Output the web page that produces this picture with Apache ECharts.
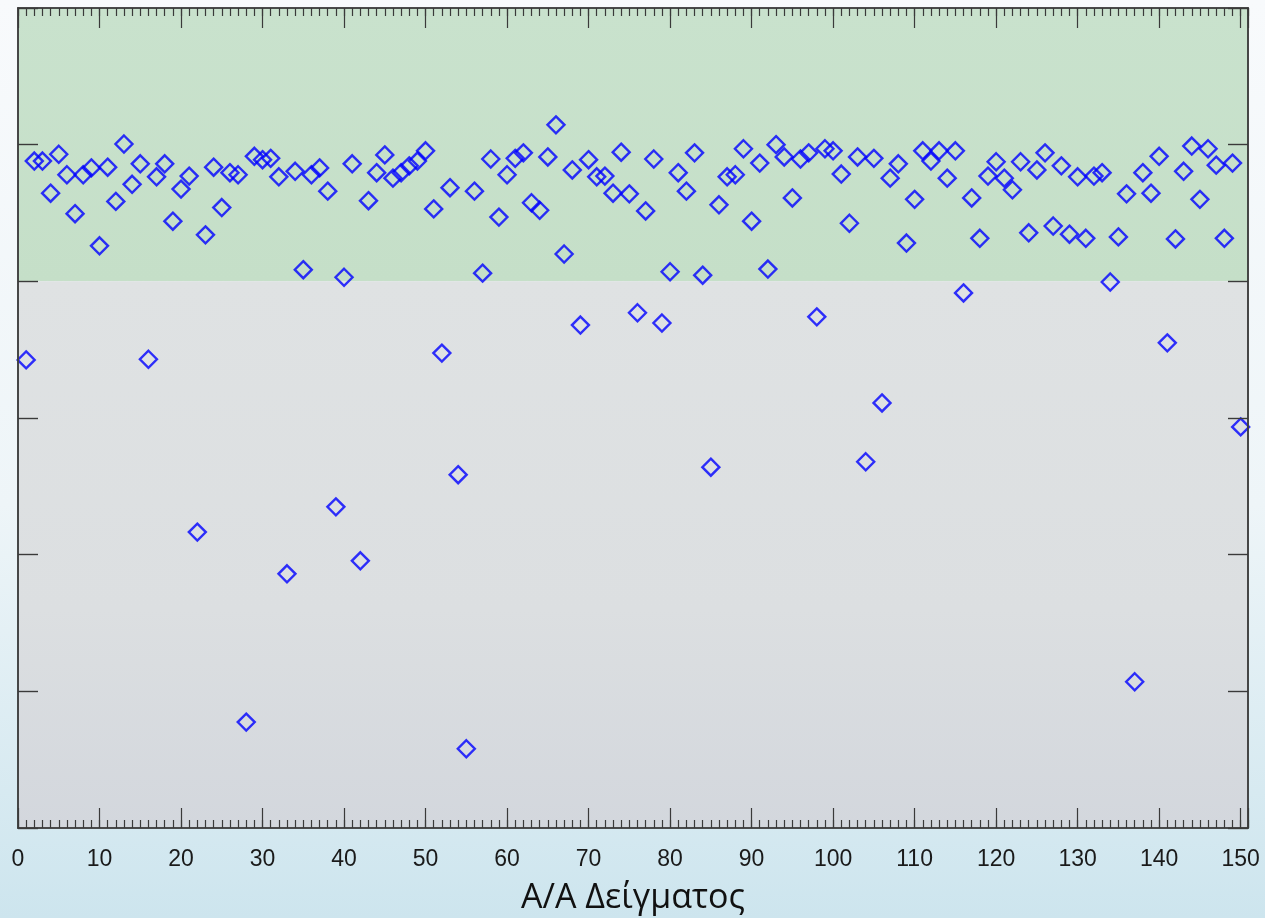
<!DOCTYPE html>
<html><head><meta charset="utf-8">
<script src="https://cdn.jsdelivr.net/npm/echarts@6/dist/echarts.min.js"></script>
<style>
html,body{margin:0;padding:0;width:1265px;height:918px;overflow:hidden;
background:linear-gradient(to bottom,#f8fafc 0%,#eef5f8 55%,#cde5ee 100%);}
#c{width:1265px;height:918px;}
</style>
</head><body><div id="c"></div>
<script>
// Sample values (sample no. = index + 1)
const sampleValues = [
 68.5,97.6,97.6,92.9,98.6,95.6,89.9,95.6,96.6,85.2,
 96.7,91.7,100.1,94.2,97.2,68.6,95.3,97.2,88.8,93.5,
 95.4,43.3,86.8,96.7,90.8,95.9,95.6,15.5,98.3,97.8,
 98.0,95.3,37.2,96.1,81.7,95.6,96.6,93.2,47.0,80.6,
 97.2,39.1,91.8,95.9,98.5,95.1,95.9,96.9,97.6,99.1,
 90.6,69.5,93.7,51.7,11.6,93.2,81.2,97.9,89.4,95.6,
 98.0,98.8,91.5,90.4,98.2,102.9,84.0,96.3,73.6,97.8,
 95.3,95.4,92.9,98.9,92.8,75.4,90.3,97.9,73.9,81.4,
 95.9,93.2,98.8,80.9,52.8,91.2,95.3,95.6,99.4,88.8,
 97.3,81.8,100.0,98.2,92.2,97.9,98.8,74.8,99.4,99.1,
 95.7,88.5,98.2,53.6,98.0,62.2,95.1,97.2,85.6,92.0,
 99.1,97.6,99.1,95.1,99.1,78.3,92.2,86.3,95.4,97.5,
 95.1,93.4,97.5,87.1,96.3,98.8,88.1,96.9,86.9,95.3,
 86.3,95.4,95.9,79.9,86.5,92.8,21.4,95.9,92.9,98.3,
 71.0,86.2,96.1,99.8,92.0,99.4,97.0,86.3,97.3,58.7
];
const xTickLabels = [0,10,20,30,40,50,60,70,80,90,100,110,120,130,140,150];
const xAxisTitle = 'Α/Α Δείγματος';
const greenBand = [80, 120];
const grayBand = [0, 80];

const points = sampleValues.map((v, i) => [i + 1, v]);

const chart = echarts.init(document.getElementById('c'), null, {renderer: 'canvas'});
const gridPos = {left: 18, right: 17, top: 8, bottom: 90, containLabel: false, outerBoundsMode: 'none'};
const lineStyle = {color: '#404040', width: 1.6};
const XMAX = 150.9;

function xAx(gridIndex, position, interval, len, labels) {
  return {
    type: 'value', gridIndex, position, min: 0, max: XMAX, interval, z: 10,
    axisLine: {show: true, onZero: false, lineStyle},
    axisTick: {show: true, inside: true, length: len, lineStyle: {color: '#3a3a3a', width: 1.2}},
    axisLabel: labels ? {
      show: true, margin: 20, fontSize: 23, color: '#1a1a1a', fontFamily: 'Liberation Sans, Arial, sans-serif',
      formatter: v => xTickLabels.includes(v) ? String(v) : ''
    } : {show: false},
    splitLine: {show: false},
    name: labels ? xAxisTitle : '',
    nameLocation: 'middle', nameGap: 53,
    nameTextStyle: {fontSize: 34, color: '#111', fontFamily: 'Open Sans, sans-serif'}
  };
}
function yAx(gridIndex, position) {
  return {
    type: 'value', gridIndex, position, min: 0, max: 120, interval: 20, z: 10,
    axisLine: {show: true, onZero: false, lineStyle},
    axisTick: {show: true, inside: true, length: 20, lineStyle: {color: '#3a3a3a', width: 1.2}},
    axisLabel: {show: false},
    splitLine: {show: false}
  };
}

chart.setOption({
  animation: false,
  grid: [Object.assign({}, gridPos), Object.assign({}, gridPos)],
  xAxis: [
    xAx(0, 'bottom', 10, 20, true),
    xAx(0, 'top', 10, 20, false),
    xAx(1, 'bottom', 1, 8, false),
    xAx(1, 'top', 1, 8, false)
  ],
  yAxis: [yAx(0, 'left'), yAx(0, 'right'), yAx(1, 'left'), yAx(1, 'right')],
  series: [
    {
      type: 'scatter', xAxisIndex: 0, yAxisIndex: 0, data: points, symbolSize: 0, silent: true, z: 0,
      itemStyle: {opacity: 0},
      markArea: {
        silent: true,
        data: [
          [{yAxis: greenBand[0], itemStyle: {color: {type: 'linear', x: 0, y: 0, x2: 0, y2: 1,
              colorStops: [{offset: 0, color: '#c9e2cd'}, {offset: 1, color: '#c5dfc8'}]}}},
           {yAxis: greenBand[1]}],
          [{yAxis: grayBand[1], itemStyle: {color: {type: 'linear', x: 0, y: 0, x2: 0, y2: 1,
              colorStops: [{offset: 0, color: '#dfe2e3'}, {offset: 0.6, color: '#dcdfe1'}, {offset: 1, color: '#d3d7dd'}]}}},
           {yAxis: grayBand[0]}]
        ]
      }
    },
    {
      type: 'scatter', xAxisIndex: 0, yAxisIndex: 0, data: points, z: 5,
      symbol: 'diamond', symbolSize: 17,
      itemStyle: {color: 'rgba(0,0,0,0)', borderColor: '#0000ff', borderWidth: 2.4}
    }
  ]
});
</script>
</body></html>
